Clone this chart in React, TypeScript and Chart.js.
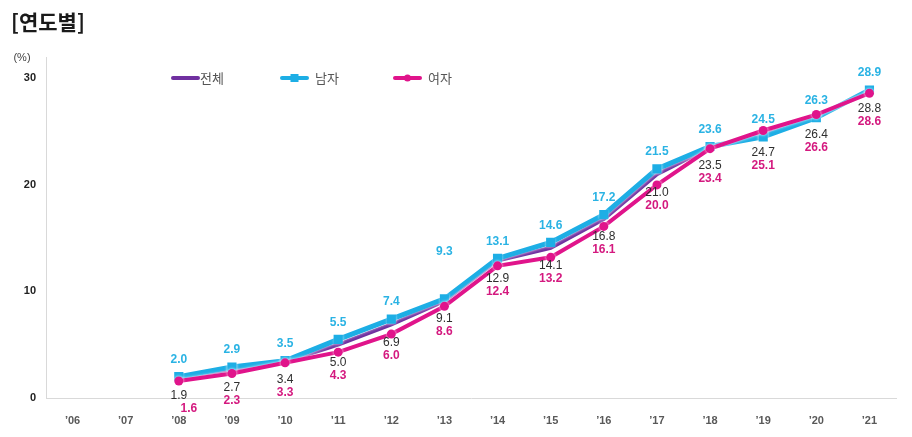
import React, { useEffect, useRef } from 'react';
import { Chart, registerables } from 'chart.js';

Chart.register(...registerables);

// ---- data ----
const YEARS = ['’06', '’07', '’08', '’09', '’10', '’11', '’12', '’13', '’14', '’15', '’16', '’17', '’18', '’19', '’20', '’21'];
const TOTAL = [null, null, 1.9, 2.7, 3.4, 5.0, 6.9, 9.1, 12.9, 14.1, 16.8, 21.0, 23.5, 24.7, 26.4, 28.8];
const MALE = [null, null, 2.0, 2.9, 3.5, 5.5, 7.4, 9.3, 13.1, 14.6, 17.2, 21.5, 23.6, 24.5, 26.3, 28.9];
const FEMALE = [null, null, 1.6, 2.3, 3.3, 4.3, 6.0, 8.6, 12.4, 13.2, 16.1, 20.0, 23.4, 25.1, 26.6, 28.6];
const SERIES_NAMES = ['전체', '남자', '여자'];
const Y_TICKS = [0, 10, 20, 30];
const TITLE = '[연도별]';
const UNIT = '(%)';

// ---- styles ----
const PURPLE = '#7030A0';
const CYAN = '#1DAEE5';
const MAGENTA = '#E0148B';
const CYAN_TEXT = '#2AB3E4';
const MAGENTA_TEXT = '#D4197F';
const DARK_TEXT = '#2f2f2f';
const FONT = '"Noto Sans CJK KR", "Noto Sans", sans-serif';
const NUM_FONT = '"Liberation Sans", "DejaVu Sans", sans-serif';
// small manual label nudges (index -> px)
const MALE_LABEL_LIFT: Record<number, number> = { 7: 30 };
const FEMALE_LABEL_SHIFT_X: Record<number, number> = { 2: 10 };

const fmt = (v: number) => v.toFixed(1);

const glowPlugin = {
  id: 'glow',
  beforeDatasetDraw(chart: any) {
    const ctx = chart.ctx;
    ctx.save();
    ctx.shadowColor = 'rgba(255,255,255,1)';
    ctx.shadowBlur = 3;
    ctx.shadowOffsetX = 0;
    ctx.shadowOffsetY = 0;
  },
  afterDatasetDraw(chart: any) {
    chart.ctx.restore();
  },
};

const decorPlugin = {
  id: 'decor',
  afterDraw(chart: any) {
    const ctx = chart.ctx;
    ctx.save();
    // title
    ctx.fillStyle = '#1a1a1a';
    ctx.font = `bold 21px ${FONT}`;
    ctx.textAlign = 'left';
    ctx.textBaseline = 'middle';
    ctx.fillText(TITLE, 11, 22);
    // unit
    ctx.fillStyle = '#444';
    ctx.font = `11px ${NUM_FONT}`;
    ctx.textAlign = 'center';
    ctx.fillText(UNIT, 22, 58);

    // legend
    const items = [
      { x: 173, color: PURPLE, marker: 'none' },
      { x: 282, color: CYAN, marker: 'rect' },
      { x: 395, color: MAGENTA, marker: 'circle' },
    ];
    const ly = 78;
    items.forEach((it, i) => {
      ctx.strokeStyle = it.color;
      ctx.lineWidth = 4;
      ctx.lineCap = 'round';
      ctx.beginPath();
      ctx.moveTo(it.x, ly);
      ctx.lineTo(it.x + 25, ly);
      ctx.stroke();
      ctx.fillStyle = it.color;
      if (it.marker === 'rect') {
        ctx.fillRect(it.x + 12.5 - 4, ly - 4, 8, 8);
      } else if (it.marker === 'circle') {
        ctx.beginPath();
        ctx.arc(it.x + 12.5, ly, 3.5, 0, Math.PI * 2);
        ctx.fill();
      }
      ctx.fillStyle = '#555';
      ctx.font = `13px ${FONT}`;
      ctx.textAlign = 'left';
      ctx.textBaseline = 'middle';
      ctx.fillText(SERIES_NAMES[i], it.x + (i === 0 ? 27 : 33), ly);
    });
    ctx.restore();
  },
  afterDatasetsDraw(chart: any) {
    const ctx = chart.ctx;
    const xs = chart.scales.x;
    const ys = chart.scales.y;
    ctx.save();
    ctx.textAlign = 'center';
    ctx.textBaseline = 'middle';
    YEARS.forEach((_, i) => {
      const t = TOTAL[i];
      const m = MALE[i];
      const f = FEMALE[i];
      if (t == null || m == null || f == null) return;
      const x = xs.getPixelForValue(i);
      const my = ys.getPixelForValue(m) - 17 - (MALE_LABEL_LIFT[i] || 0);
      const ty = ys.getPixelForValue(t) + 18;
      const fy = Math.max(ys.getPixelForValue(f) + 20, ty + 13);
      ctx.font = `bold 12px ${NUM_FONT}`;
      ctx.fillStyle = CYAN_TEXT;
      ctx.fillText(fmt(m), x, my);
      ctx.font = `12px ${NUM_FONT}`;
      ctx.fillStyle = DARK_TEXT;
      ctx.fillText(fmt(t), x, ty);
      ctx.font = `bold 12px ${NUM_FONT}`;
      ctx.fillStyle = MAGENTA_TEXT;
      ctx.fillText(fmt(f), x + (FEMALE_LABEL_SHIFT_X[i] || 0), fy);
    });
    ctx.restore();
  },
};

export default function App() {
  const ref = useRef<HTMLCanvasElement | null>(null);
  useEffect(() => {
    document.body.style.margin = '0';
    document.body.style.background = '#ffffff';
    if (!ref.current) return;
    const chart = new Chart(ref.current, {
      type: 'line',
      data: {
        labels: YEARS,
        datasets: [
          {
            label: SERIES_NAMES[0],
            data: TOTAL,
            borderColor: PURPLE,
            backgroundColor: PURPLE,
            borderWidth: 4,
            pointRadius: 0,
            tension: 0,
            order: 3,
          },
          {
            label: SERIES_NAMES[1],
            data: MALE,
            borderColor: CYAN,
            backgroundColor: CYAN,
            borderWidth: 5,
            pointStyle: 'rect',
            pointRadius: 6.5,
            pointBorderWidth: 0,
            tension: 0,
            order: 2,
          },
          {
            label: SERIES_NAMES[2],
            data: FEMALE,
            borderColor: MAGENTA,
            backgroundColor: MAGENTA,
            borderWidth: 4,
            pointStyle: 'circle',
            pointRadius: 4.5,
            pointBorderWidth: 0,
            tension: 0,
            order: 1,
          },
        ],
      },
      options: {
        animation: false,
        responsive: false,
        maintainAspectRatio: false,
        layout: { padding: { top: 57, right: 16, left: 0, bottom: 0 } },
        plugins: {
          legend: { display: false },
          tooltip: { enabled: false },
          title: { display: false },
        },
        scales: {
          x: {
            offset: true,
            grid: { display: false, drawTicks: false, offset: true },
            border: { display: true, color: '#d9d9d9', width: 1 },
            ticks: {
              color: '#595959',
              font: { family: NUM_FONT, size: 11, weight: 'bold' },
              padding: 16,
              maxRotation: 0,
              autoSkip: false,
            },
            afterFit: (s: any) => {
              s.height = 39;
            },
          },
          y: {
            min: 0,
            max: 32,
            grid: { display: false, drawTicks: false },
            border: { display: true, color: '#d9d9d9', width: 1 },
            ticks: {
              color: '#222',
              font: { family: NUM_FONT, size: 11, weight: 'bold' },
              padding: 10,
            },
            afterBuildTicks: (s: any) => {
              s.ticks = Y_TICKS.map((v) => ({ value: v }));
            },
            afterFit: (s: any) => {
              s.width = 46;
            },
          },
        },
      },
      plugins: [glowPlugin, decorPlugin],
    });
    return () => chart.destroy();
  }, []);
  return (
    <div style={{ width: 912, height: 437, position: 'relative', background: '#fff' }}>
      <canvas ref={ref} width={912} height={437} style={{ display: 'block', width: 912, height: 437 }} />
    </div>
  );
}
